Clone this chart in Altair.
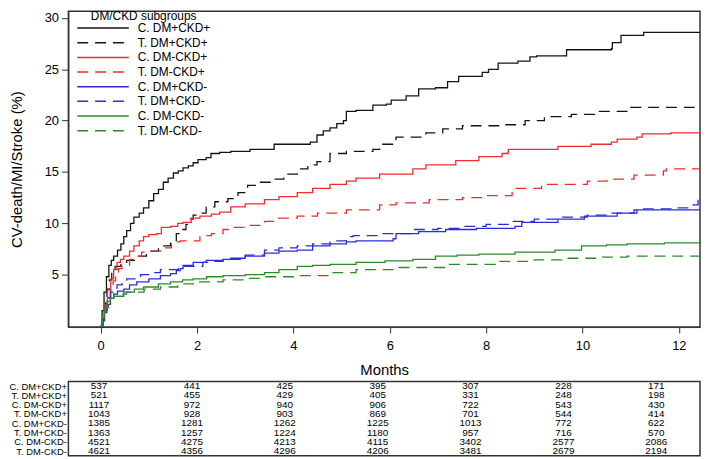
import altair as alt
import pandas as pd

groups = ["C. DM+CKD+", "T. DM+CKD+", "C. DM-CKD+", "T. DM-CKD+",
          "C. DM+CKD-", "T. DM+CKD-", "C. DM-CKD-", "T. DM-CKD-"]
colors = ["#141414", "#141414", "#ee2c2c", "#ee2c2c",
          "#2b2bdc", "#2b2bdc", "#2a8a2a", "#2a8a2a"]
dashes = [[1, 0], [11, 7], [1, 0], [11, 7], [1, 0], [11, 7], [1, 0], [11, 7]]

m1 = [0, 0.03, 0.07, 0.12, 0.17, 0.22, 0.27, 0.35, 0.42, 0.48, 0.54, 0.62, 0.69, 0.8, 0.89, 1.0, 1.1, 1.2, 1.3, 1.4,
      1.51, 1.61, 1.71, 1.82, 1.92, 2.02, 2.19, 2.29, 2.47, 2.7, 3.1, 3.6, 4.35, 4.49, 4.62, 4.76, 4.9, 5.04, 5.1, 5.3,
      5.65, 5.93, 6.03, 6.34, 6.6, 6.95, 7.2, 7.43, 7.92, 8.05, 8.25, 8.66, 8.91, 9.05, 9.67, 10.6, 10.62, 10.8, 11.27, 12.44]
v1 = [0, 1.5, 3.3, 4.8, 5.9, 6.4, 6.8, 7.4, 8.0, 8.7, 9.3, 10.0, 10.6, 11.0, 11.5, 12.2, 12.9, 13.3, 14.0, 14.4,
      14.9, 15.1, 15.4, 15.6, 15.9, 16.2, 16.4, 16.8, 16.9, 17.0, 17.2, 17.7, 17.9, 18.6, 19.0, 19.3, 19.7, 20.0, 20.9, 21.0,
      21.5, 21.6, 22.0, 22.4, 23.1, 23.2, 23.8, 24.3, 24.7, 25.0, 25.6, 25.8, 26.2, 26.3, 26.9, 27.0, 27.6, 28.3, 28.6, 28.6]

m2 = [0, 0.05, 0.1, 0.13, 0.18, 0.23, 0.3, 0.42, 0.54, 0.75, 0.95, 1.2, 1.45, 1.57, 1.67, 1.77, 1.85, 1.92, 2.02, 2.19,
      2.37, 2.64, 2.85, 3.05, 3.3, 3.52, 3.8, 4.08, 4.3, 4.49, 4.76, 5.1, 5.65, 5.79, 6.13, 6.75, 7.1, 7.51, 8.33, 8.81,
      9.21, 9.77, 10.25, 11.0, 12.44]
v2 = [0, 1.0, 2.5, 3.6, 4.5, 5.2, 5.8, 6.2, 6.4, 6.8, 7.3, 7.8, 8.2, 9.0, 9.4, 9.9, 10.4, 10.8, 11.0, 11.6,
      12.1, 12.4, 13.0, 13.7, 14.0, 14.3, 14.8, 15.3, 15.7, 16.0, 16.8, 17.0, 17.2, 17.7, 18.4, 18.8, 19.2, 19.5, 19.6, 20.0,
      20.4, 20.6, 20.9, 21.3, 21.3]

m3 = [0, 0.03, 0.07, 0.14, 0.21, 0.27, 0.34, 0.41, 0.48, 0.6, 0.69, 0.8, 0.89, 1.0, 1.16, 1.26, 1.45, 1.6, 1.71, 1.88,
      2.06, 2.3, 2.47, 2.7, 3.0, 3.4, 3.7, 4.08, 4.4, 4.76, 5.1, 5.3, 5.79, 6.48, 6.75, 7.37, 7.85, 8.33, 8.46, 9.49,
      10.18, 10.6, 10.72, 11.13, 11.24, 11.84, 12.44]
v3 = [0, 1.0, 2.1, 3.5, 4.6, 5.5, 6.2, 6.5, 6.8, 7.3, 7.8, 8.3, 8.7, 8.9, 9.0, 9.6, 9.7, 10.0, 10.1, 10.5,
      10.7, 10.9, 11.1, 11.6, 11.9, 12.3, 12.6, 13.0, 13.4, 13.8, 14.1, 14.4, 14.8, 15.3, 15.7, 16.1, 16.5, 16.8, 17.2, 17.5,
      17.7, 17.9, 18.2, 18.4, 18.7, 18.8, 18.8]

m4 = [0, 0.05, 0.1, 0.16, 0.21, 0.26, 0.31, 0.37, 0.44, 0.6, 0.75, 0.85, 1.0, 1.24, 1.47, 1.65, 2.06, 2.3, 2.54, 2.7,
      3.0, 3.4, 3.7, 4.08, 4.5, 5.1, 5.79, 6.13, 6.82, 7.51, 7.98, 8.54, 9.15, 10.1, 10.51, 11.07, 11.68, 11.74, 12.44]
v4 = [0, 0.8, 1.8, 2.8, 3.6, 4.4, 5.2, 5.6, 5.9, 6.5, 6.8, 7.2, 7.3, 7.6, 8.2, 8.3, 8.8, 9.0, 9.4, 9.6,
      9.8, 10.2, 10.5, 10.7, 11.0, 11.3, 11.8, 12.0, 12.3, 12.5, 12.7, 13.4, 13.8, 14.1, 14.3, 14.7, 15.1, 15.3, 15.3]

m5 = [0, 0.03, 0.08, 0.13, 0.2, 0.27, 0.35, 0.48, 0.6, 0.75, 1.0, 1.24, 1.45, 1.57, 1.65, 1.71, 1.92, 2.19, 2.54, 2.7,
      3.0, 3.4, 3.7, 4.08, 4.4, 4.76, 5.1, 5.3, 6.07, 6.13, 6.6, 7.16, 7.8, 8.6, 8.74, 9.49, 10.04, 10.72, 11.07, 12.44]
v5 = [0, 0.5, 1.3, 2.1, 2.7, 3.1, 3.4, 3.6, 4.0, 4.3, 4.6, 4.9, 5.1, 5.4, 5.6, 5.9, 6.2, 6.4, 6.5, 6.6,
      6.8, 7.1, 7.3, 7.4, 7.8, 8.0, 8.2, 8.3, 8.5, 9.0, 9.2, 9.4, 9.5, 9.7, 10.1, 10.4, 10.7, 11.0, 11.3, 11.3]

m6 = [0, 0.04, 0.08, 0.13, 0.2, 0.27, 0.34, 0.44, 0.54, 0.83, 1.06, 1.24, 1.61, 2.12, 2.37, 2.54, 3.0, 3.4, 3.7, 4.08,
      4.4, 4.76, 5.1, 5.24, 5.8, 6.48, 7.0, 7.51, 8.0, 8.54, 9.0, 9.57, 10.1, 10.6, 11.13, 11.96, 12.3, 12.4, 12.44]
v6 = [0, 0.6, 1.5, 2.7, 3.3, 3.7, 4.0, 4.1, 4.6, 5.0, 5.2, 5.5, 5.8, 6.2, 6.3, 6.5, 6.9, 7.4, 7.6, 7.8,
      8.0, 8.3, 8.7, 8.8, 9.0, 9.4, 9.5, 9.7, 9.9, 10.2, 10.4, 10.6, 10.8, 11.0, 11.4, 11.5, 11.8, 12.3, 12.3]

m7 = [0, 0.03, 0.08, 0.13, 0.2, 0.27, 0.48, 0.7, 0.89, 1.2, 1.45, 1.7, 1.92, 2.2, 2.54, 3.0, 3.4, 3.7, 4.08, 4.4, 4.76,
      5.3, 5.9, 6.48, 6.95, 7.4, 7.85, 8.6, 9.43, 9.98, 10.5, 10.93, 11.7, 12.44]
v7 = [0, 0.8, 1.6, 2.4, 2.7, 2.9, 3.3, 3.6, 3.8, 4.1, 4.3, 4.5, 4.6, 4.8, 4.9, 5.0, 5.2, 5.5, 5.8, 5.9, 6.0,
      6.2, 6.35, 6.5, 6.8, 6.9, 7.0, 7.2, 7.4, 7.8, 7.9, 8.0, 8.1, 8.2]

m8 = [0, 0.04, 0.1, 0.17, 0.27, 0.54, 0.9, 1.24, 1.6, 1.92, 2.54, 3.0, 3.4, 4.08, 4.76, 5.3, 6.13, 7.16, 8.19, 9.0,
      9.57, 10.3, 10.93, 12.44]
v8 = [0, 1.0, 2.0, 2.7, 3.1, 3.3, 3.6, 3.8, 4.1, 4.3, 4.5, 4.65, 4.8, 4.9, 5.2, 5.5, 5.7, 6.0, 6.3, 6.45,
      6.6, 6.7, 6.8, 6.9]

series_m = [m1, m2, m3, m4, m5, m6, m7, m8]
series_v = [v1, v2, v3, v4, v5, v6, v7, v8]

table_months = [0, 2, 4, 6, 8, 10, 12]
n_at_risk = [
    [537, 441, 425, 395, 307, 228, 171],
    [521, 455, 429, 405, 331, 248, 198],
    [1117, 972, 940, 906, 722, 543, 430],
    [1043, 928, 903, 869, 701, 544, 414],
    [1385, 1281, 1262, 1225, 1013, 772, 622],
    [1363, 1257, 1224, 1180, 957, 716, 570],
    [4521, 4275, 4213, 4115, 3402, 2577, 2086],
    [4621, 4356, 4296, 4206, 3481, 2679, 2194],
]

rows = []
for g, ms, vs in zip(groups, series_m, series_v):
    for m, v in zip(ms, vs):
        rows.append({"month": m, "pct": v, "group": g})
df = pd.DataFrame(rows)

trows = []
for g, counts in zip(groups, n_at_risk):
    for m, c in zip(table_months, counts):
        trows.append({"month": m, "group": g, "n": str(c)})
tdf = pd.DataFrame(trows)

FONT = "Liberation Sans"

main = alt.Chart(df).mark_line(interpolate="step-after", strokeWidth=1.3, clip=True).encode(
    x=alt.X("month:Q",
            scale=alt.Scale(domain=[-0.67, 12.44], nice=False, zero=False),
            axis=alt.Axis(title="Months", values=table_months, grid=False, tickSize=6,
                          labelPadding=7, labelFontSize=13, titleFontSize=15, titleFontWeight="normal",
                          titlePadding=10, domainColor="#333", tickColor="#333", labelColor="#000",
                          titleColor="#000")),
    y=alt.Y("pct:Q",
            scale=alt.Scale(domain=[-0.1, 30.65], nice=False, zero=False),
            axis=alt.Axis(title="CV-death/MI/Stroke (%)", values=[5, 10, 15, 20, 25, 30], grid=False,
                          tickSize=7, labelPadding=3, labelFontSize=13, titleFontSize=15,
                          titleFontWeight="normal", titlePadding=20, domainColor="#333",
                          tickColor="#333", labelColor="#000", titleColor="#000")),
    color=alt.Color("group:N", scale=alt.Scale(domain=groups, range=colors),
                    legend=alt.Legend(title="DM/CKD subgroups", orient="none", legendX=8, legendY=0,
                                      titleFontSize=12, titleFontWeight="normal", titleAnchor="middle",
                                      labelFontSize=12, symbolType="stroke", symbolSize=2704,
                                      symbolStrokeWidth=1.5, labelOffset=8, rowPadding=2.8, padding=0,
                                      clipHeight=12, titlePadding=-1, titleColor="#000",
                                      labelColor="#000")),
    strokeDash=alt.StrokeDash("group:N", scale=alt.Scale(domain=groups, range=dashes),
                              legend=alt.Legend(title="DM/CKD subgroups")),
).properties(width=638, height=319)

table = alt.Chart(tdf).mark_text(fontSize=10, font=FONT, color="#000").encode(
    x=alt.X("month:Q", scale=alt.Scale(domain=[-0.661, 12.942], nice=False, zero=False), axis=None),
    y=alt.Y("group:N", sort=groups, scale=alt.Scale(domain=groups),
            axis=alt.Axis(title=None, domain=False, ticks=False, labelFontSize=9.5, labelPadding=2,
                          labelColor="#000")),
    text="n:N",
).properties(width=638, height=75)

chart = alt.vconcat(main, table, spacing=1).properties(padding=0).configure(font=FONT).configure_view(
    stroke="#333", strokeWidth=1.5
)

chart.save("out.html", embed_options={"renderer": "svg", "actions": False})
